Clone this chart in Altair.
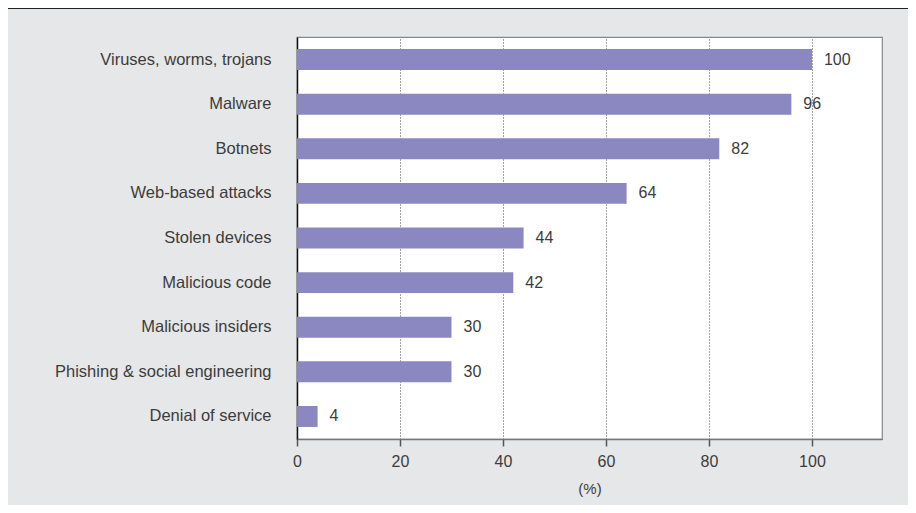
import altair as alt
import pandas as pd

categories = [
    "Viruses, worms, trojans",
    "Malware",
    "Botnets",
    "Web-based attacks",
    "Stolen devices",
    "Malicious code",
    "Malicious insiders",
    "Phishing & social engineering",
    "Denial of service",
]
values = [100, 96, 82, 64, 44, 42, 30, 30, 4]
x_ticks = [0, 20, 40, 60, 80, 100]

df = pd.DataFrame({"cat": categories, "val": values})

FONT = "Liberation Sans"
TXT = "#3c3c3c"

x_enc = alt.X(
    "val:Q",
    scale=alt.Scale(domain=[0, 113.6], nice=False, zero=True),
    axis=alt.Axis(
        values=x_ticks,
        title="(%)",
        titleFont=FONT,
        titleFontSize=15,
        titleFontWeight="normal",
        titleColor=TXT,
        titlePadding=12,
        labelFont=FONT,
        labelFontSize=16,
        labelColor=TXT,
        labelPadding=7,
        labelFlush=False,
        tickSize=7,
        tickColor="#555555",
        tickWidth=1.5,
        domainColor="#777777",
        domainWidth=1.5,
        grid=True,
        gridDash=[1, 2],
        gridColor="#444444",
        gridWidth=1,
    ),
)
y_enc = alt.Y(
    "cat:N",
    sort=categories,
    scale=alt.Scale(paddingInner=0.53, paddingOuter=0.27),
    axis=alt.Axis(
        title=None,
        labelFont=FONT,
        labelFontSize=16.5,
        labelColor=TXT,
        labelPadding=26,
        labelLimit=400,
        ticks=False,
        domainColor="#111111",
        domainWidth=1.5,
        grid=False,
    ),
)

bars = alt.Chart(df).mark_bar(color="#8b87c0").encode(x=x_enc, y=y_enc)

labels = alt.Chart(df).mark_text(
    align="left", baseline="middle", dx=12, font=FONT, fontSize=16, color=TXT
).encode(x="val:Q", y=alt.Y("cat:N", sort=categories), text="val:Q")

topline = alt.Chart(df).mark_rule(color="#222222", strokeWidth=1.5, clip=False).encode(
    x=alt.value(-289), x2=alt.value(611), y=alt.value(-29)
)

chart = (
    alt.layer(bars, labels, topline)
    .properties(
        width=585,
        height=402,
        background="#e6e7e8",
        padding={"left": 289, "top": 29, "right": 26, "bottom": 66},
        autosize=alt.AutoSizeParams(type="none"),
    )
    .configure_view(fill="white", stroke="#888888", strokeWidth=1.2)
)

chart.save("out.html", embed_options={"renderer": "svg", "actions": False})
